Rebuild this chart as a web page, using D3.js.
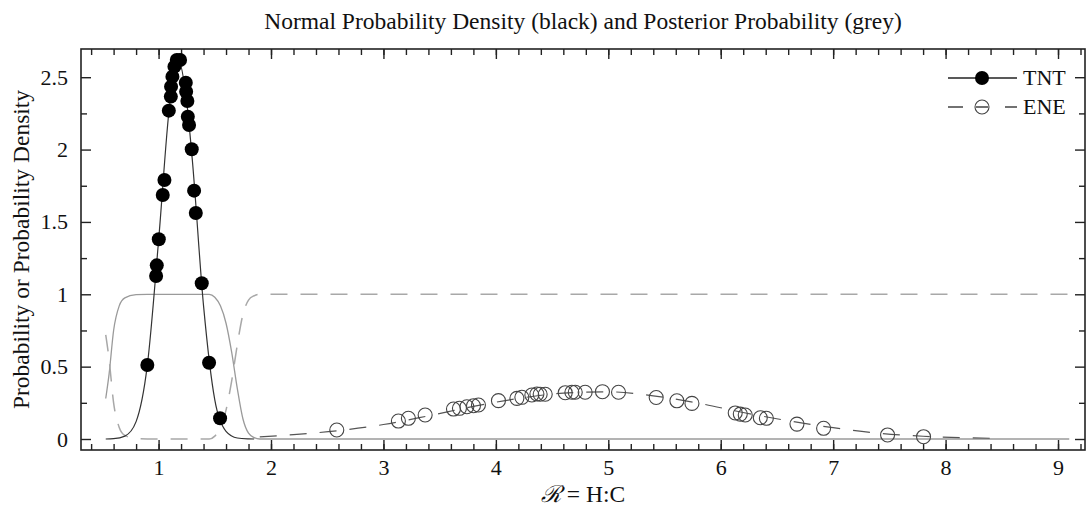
<!DOCTYPE html>
<html>
<head>
<meta charset="utf-8">
<script src="https://cdn.jsdelivr.net/npm/d3@7"></script>
<style>
  body { margin: 0; background: #fff; }
  text { font-family: "Liberation Serif", "DejaVu Serif", serif; fill: #111; }
</style>
</head>
<body>
<script>
// ---- data ----
// TNT sample points (normal probability density)
var tntX = [0.900, 0.978, 0.984, 1.002, 1.037, 1.052, 1.091, 1.109, 1.111, 1.123, 1.141, 1.162,
  1.191, 1.242, 1.245, 1.256, 1.260, 1.271, 1.295, 1.316, 1.331, 1.384, 1.449, 1.547];
var tntY = [0.511, 1.126, 1.200, 1.380, 1.686, 1.790, 2.269, 2.366, 2.435, 2.504, 2.573, 2.619,
  2.619, 2.462, 2.400, 2.336, 2.227, 2.170, 2.002, 1.716, 1.562, 1.076, 0.527, 0.143];

// ENE sample points
var eneX = [2.585, 3.133, 3.222, 3.371, 3.623, 3.676, 3.742, 3.801, 3.845, 4.023, 4.187, 4.231,
  4.320, 4.365, 4.394, 4.439, 4.617, 4.676, 4.706, 4.794, 4.948, 5.091, 5.426, 5.610, 5.744,
  6.129, 6.174, 6.218, 6.352, 6.406, 6.678, 6.915, 7.484, 7.804];
var eneY = [0.062, 0.124, 0.143, 0.166, 0.207, 0.212, 0.223, 0.230, 0.235, 0.265, 0.281, 0.288,
  0.304, 0.311, 0.309, 0.309, 0.320, 0.323, 0.323, 0.323, 0.327, 0.323, 0.287, 0.264, 0.246,
  0.180, 0.172, 0.166, 0.147, 0.143, 0.103, 0.074, 0.028, 0.016];

// density curves (black)
var tntCurveX = [0.53, 0.6, 0.7, 0.8, 0.9, 1.0, 1.1, 1.175, 1.25, 1.3, 1.4, 1.5, 1.6, 1.7, 1.8, 1.85];
var tntCurveY = [0.0, 0.002, 0.02, 0.12, 0.51, 1.37, 2.32, 2.62, 2.33, 1.93, 0.92, 0.27, 0.053, 0.007, 0.001, 0.0];
var eneCurveX = [1.9, 2.2, 2.6, 3.0, 3.4, 3.8, 4.2, 4.6, 5.0, 5.4, 5.8, 6.2, 6.6, 7.0, 7.4, 7.8, 8.2, 8.5];
var eneCurveY = [0.015, 0.03, 0.058, 0.1, 0.16, 0.225, 0.28, 0.317, 0.326, 0.298, 0.248, 0.183, 0.126, 0.078, 0.04, 0.019, 0.008, 0.004];

// posterior probabilities (grey)
var tntPostX = [0.53, 0.56, 0.6, 0.65, 0.7, 0.8, 0.9, 1.45, 1.5, 1.55, 1.6, 1.65, 1.7, 1.75, 1.8, 1.85, 1.9, 9.1];
var tntPostY = [0.28, 0.45, 0.75, 0.92, 0.975, 0.997, 1.0, 1.0, 0.98, 0.92, 0.8, 0.6, 0.35, 0.14, 0.04, 0.01, 0.0, 0.0];
var enePostX = [0.53, 0.56, 0.6, 0.65, 0.7, 0.8, 0.9, 1.45, 1.5, 1.55, 1.6, 1.65, 1.7, 1.75, 1.8, 1.85, 1.9, 9.1];
var enePostY = [0.72, 0.55, 0.25, 0.08, 0.025, 0.003, 0.0, 0.0, 0.02, 0.08, 0.2, 0.4, 0.65, 0.86, 0.96, 0.99, 1.0, 1.0];

// ticks
var xMajorTicks = [1, 2, 3, 4, 5, 6, 7, 8, 9];
var xMinorTicks = d3.range(0.4, 9.21, 0.2);
var yMajorTicks = [0, 0.5, 1, 1.5, 2, 2.5];
var yMinorTicks = [0.25, 0.75, 1.25, 1.75, 2.25];

var seriesNames = ["TNT", "ENE"];

// ---- layout ----
var svgWidth = 1086;
var svgHeight = 509;
var margin = { top: 49, right: 1, bottom: 59, left: 81 };
var chartWidth = svgWidth - margin.left - margin.right;
var chartHeight = svgHeight - margin.top - margin.bottom;

var svg = d3.select("body")
  .append("svg")
  .attr("width", svgWidth)
  .attr("height", svgHeight);

var chartGroup = svg.append("g")
  .attr("transform", `translate(${margin.left}, ${margin.top})`);

var xScale = d3.scaleLinear()
  .domain([0.31, 9.24])
  .range([0, chartWidth]);

var yScale = d3.scaleLinear()
  .domain([-0.076, 2.695])
  .range([chartHeight, 0]);

// ---- axes: ticks point inward on all four sides ----
function styleAxis(g) {
  g.select(".domain").remove();
  g.selectAll(".tick line").attr("stroke", "#222").attr("stroke-width", 1.4);
  g.selectAll(".tick text").style("font-size", "22px").attr("fill", "#111")
    .style("font-family", "'Liberation Serif', serif");
}

chartGroup.append("g")
  .attr("transform", `translate(0, ${chartHeight})`)
  .call(d3.axisBottom(xScale).tickValues(xMinorTicks).tickSize(-6).tickFormat(""))
  .call(styleAxis);
chartGroup.append("g")
  .attr("transform", `translate(0, ${chartHeight})`)
  .call(d3.axisBottom(xScale).tickValues(xMajorTicks).tickSize(-10).tickPadding(9).tickFormat(d => d))
  .call(styleAxis);
chartGroup.append("g")
  .call(d3.axisTop(xScale).tickValues(xMinorTicks).tickSize(-6).tickFormat(""))
  .call(styleAxis);
chartGroup.append("g")
  .call(d3.axisTop(xScale).tickValues(xMajorTicks).tickSize(-10).tickFormat(""))
  .call(styleAxis);

chartGroup.append("g")
  .call(d3.axisLeft(yScale).tickValues(yMinorTicks).tickSize(-6).tickFormat(""))
  .call(styleAxis);
chartGroup.append("g")
  .call(d3.axisLeft(yScale).tickValues(yMajorTicks).tickSize(-10).tickPadding(13).tickFormat(d => d))
  .call(styleAxis);
chartGroup.append("g")
  .attr("transform", `translate(${chartWidth}, 0)`)
  .call(d3.axisRight(yScale).tickValues(yMinorTicks).tickSize(-6).tickFormat(""))
  .call(styleAxis);
chartGroup.append("g")
  .attr("transform", `translate(${chartWidth}, 0)`)
  .call(d3.axisRight(yScale).tickValues(yMajorTicks).tickSize(-10).tickFormat(""))
  .call(styleAxis);

// frame
chartGroup.append("rect")
  .attr("width", chartWidth)
  .attr("height", chartHeight)
  .attr("fill", "none")
  .attr("stroke", "#222")
  .attr("stroke-width", 1.6);

// ---- lines ----
var line = d3.line()
  .x(d => xScale(d[0]))
  .y(d => yScale(d[1]))
  .curve(d3.curveMonotoneX);

var dashes = "17,13";

// grey posterior probability curves
chartGroup.append("path")
  .datum(tntPostX.map((x, i) => [x, tntPostY[i]]))
  .attr("d", line)
  .attr("fill", "none")
  .attr("stroke", "#9a9a9a")
  .attr("stroke-width", 1.3);

chartGroup.append("path")
  .datum(enePostX.map((x, i) => [x, enePostY[i]]))
  .attr("d", line)
  .attr("fill", "none")
  .attr("stroke", "#a8a8a8")
  .attr("stroke-width", 1.5)
  .attr("stroke-dasharray", dashes);

// black density curves
chartGroup.append("path")
  .datum(tntCurveX.map((x, i) => [x, tntCurveY[i]]))
  .attr("d", line)
  .attr("fill", "none")
  .attr("stroke", "#333")
  .attr("stroke-width", 1.2);

chartGroup.append("path")
  .datum(eneCurveX.map((x, i) => [x, eneCurveY[i]]))
  .attr("d", line)
  .attr("fill", "none")
  .attr("stroke", "#555")
  .attr("stroke-width", 1.2)
  .attr("stroke-dasharray", dashes);

// ---- points ----
chartGroup.selectAll(".ene")
  .data(eneX)
  .enter()
  .append("circle")
  .classed("ene", true)
  .attr("cx", d => xScale(d))
  .attr("cy", (d, i) => yScale(eneY[i]))
  .attr("r", 7)
  .attr("fill", "none")
  .attr("stroke", "#444")
  .attr("stroke-width", 1.1);

chartGroup.selectAll(".tnt")
  .data(tntX)
  .enter()
  .append("circle")
  .classed("tnt", true)
  .attr("cx", d => xScale(d))
  .attr("cy", (d, i) => yScale(tntY[i]))
  .attr("r", 7)
  .attr("fill", "#000");

// ---- legend ----
var legend = svg.append("g").attr("transform", "translate(948, 78)");

legend.append("line")
  .attr("x1", 0).attr("x2", 69).attr("y1", 0).attr("y2", 0)
  .attr("stroke", "#222").attr("stroke-width", 1.5);
legend.append("circle")
  .attr("cx", 34).attr("cy", 0).attr("r", 7).attr("fill", "#000");
legend.append("text")
  .attr("x", 75).attr("y", 7)
  .style("font-size", "22px")
  .text(seriesNames[0]);

legend.append("line")
  .attr("x1", 0).attr("x2", 69).attr("y1", 29).attr("y2", 29)
  .attr("stroke", "#444").attr("stroke-width", 1.3)
  .attr("stroke-dasharray", "15,13,12,17,12");
legend.append("circle")
  .attr("cx", 34).attr("cy", 29).attr("r", 7)
  .attr("fill", "none").attr("stroke", "#444").attr("stroke-width", 1.1);
legend.append("text")
  .attr("x", 75).attr("y", 36)
  .style("font-size", "22px")
  .text(seriesNames[1]);

// ---- titles ----
svg.append("text")
  .attr("x", margin.left + chartWidth / 2)
  .attr("y", 29)
  .attr("text-anchor", "middle")
  .style("font-size", "23.5px")
  .text("Normal Probability Density (black) and Posterior Probability (grey)");

svg.append("text")
  .attr("transform", `translate(29, ${margin.top + chartHeight / 2}) rotate(-90)`)
  .attr("text-anchor", "middle")
  .style("font-size", "23.5px")
  .text("Probability or Probability Density");

svg.append("text")
  .attr("x", margin.left + chartWidth / 2)
  .attr("y", 502)
  .attr("text-anchor", "middle")
  .style("font-size", "23.5px")
  .html("<tspan font-style='italic'>ℛ</tspan> = H:C");
</script>
</body>
</html>
